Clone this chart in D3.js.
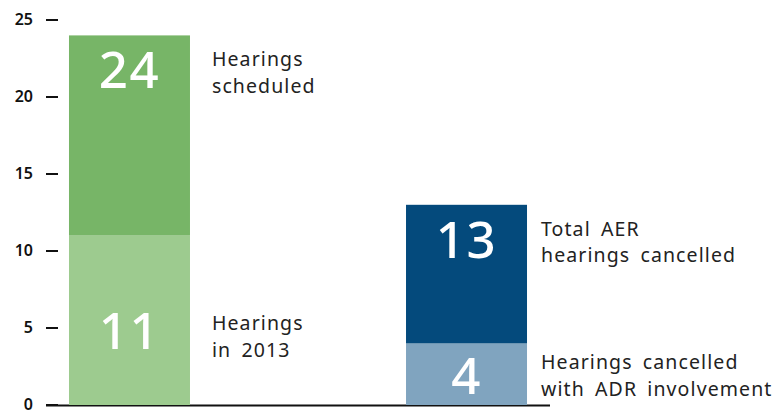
<!DOCTYPE html>
<html>
<head>
<meta charset="utf-8">
<script src="https://cdn.jsdelivr.net/npm/d3@7"></script>
<style>
  body { margin: 0; background: #fff; }
  svg text { font-family: "Noto Sans", sans-serif; }
</style>
</head>
<body>
<div id="chart"></div>
<script>
// data
const groups = ["scheduled", "cancelled"];
const baseValues = [11, 4];
const totalValues = [24, 13];
const baseLabels = [["Hearings", "in 2013"], ["Hearings cancelled", "with ADR involvement"]];
const totalLabels = [["Hearings", "scheduled"], ["Total AER", "hearings cancelled"]];
const yTicks = [0, 5, 10, 15, 20, 25];

const baseColors = ["#9dcb8f", "#80a4bf"];
const totalColors = ["#77b567", "#044a7c"];

const width = 778;
const height = 413;

const svg = d3.select("#chart")
  .append("svg")
  .attr("width", width)
  .attr("height", height);

const y = d3.scaleLinear().domain([0, 25]).range([405, 20]);
const x = d3.scaleBand()
  .domain(groups)
  .range([58, 538])
  .paddingInner(0.641)
  .paddingOuter(0.0326);

// axis ticks: label + dash
const tick = svg.append("g").selectAll("g")
  .data(yTicks)
  .enter().append("g")
  .attr("transform", d => `translate(0,${y(d)})`);
tick.append("text")
  .attr("x", 33)
  .attr("dy", "0.3em")
  .attr("text-anchor", "end")
  .attr("font-size", 16)
  .attr("font-weight", 600)
  .attr("fill", "#111")
  .text(d => d);
tick.append("line")
  .attr("x1", 46).attr("x2", 58)
  .attr("stroke", "#111")
  .attr("stroke-width", 2);

// baseline
svg.append("line")
  .attr("x1", 46).attr("x2", 550)
  .attr("y1", y(0) + 0.5).attr("y2", y(0) + 0.5)
  .attr("stroke", "#111")
  .attr("stroke-width", 2);

// segments
const segs = [];
groups.forEach((g, i) => {
  segs.push({ g, y0: 0, y1: baseValues[i], color: baseColors[i], value: baseValues[i], label: baseLabels[i], top: false, i });
  segs.push({ g, y0: baseValues[i], y1: totalValues[i], color: totalColors[i], value: totalValues[i], label: totalLabels[i], top: true, i });
});

svg.append("g").selectAll("rect")
  .data(segs)
  .enter().append("rect")
  .attr("x", d => x(d.g))
  .attr("width", x.bandwidth())
  .attr("y", d => y(d.y1))
  .attr("height", d => y(d.y0) - y(d.y1))
  .attr("fill", d => d.color);

// layout offsets for the big numbers and side labels (pixels)
const numberBaseline = d => d.top ? y(d.y1) + 53 : [349, 394][d.i];
const labelBaseline = d => d.top ? y(d.y1) + 31 : [330, 369][d.i];
const labelGap = [22, 14];

svg.append("g").selectAll("text")
  .data(segs)
  .enter().append("text")
  .attr("x", d => x(d.g) + x.bandwidth() / 2)
  .attr("y", numberBaseline)
  .attr("text-anchor", "middle")
  .attr("font-size", 51)
  .attr("font-weight", 500)
  .attr("letter-spacing", 1.5)
  .attr("fill", "#fff")
  .text(d => d.value);

const side = svg.append("g").selectAll("text")
  .data(segs)
  .enter().append("text")
  .attr("y", labelBaseline)
  .attr("font-size", 19.5)
  .attr("fill", "#222")
  .attr("letter-spacing", 1.1)
  .attr("word-spacing", 4);
side.selectAll("tspan")
  .data(d => d.label.map((t, k) => ({ t, k, x: x(d.g) + x.bandwidth() + labelGap[d.i] })))
  .enter().append("tspan")
  .attr("x", d => d.x)
  .attr("dy", d => d.k === 0 ? 0 : 26.5)
  .text(d => d.t);
</script>
</body>
</html>
